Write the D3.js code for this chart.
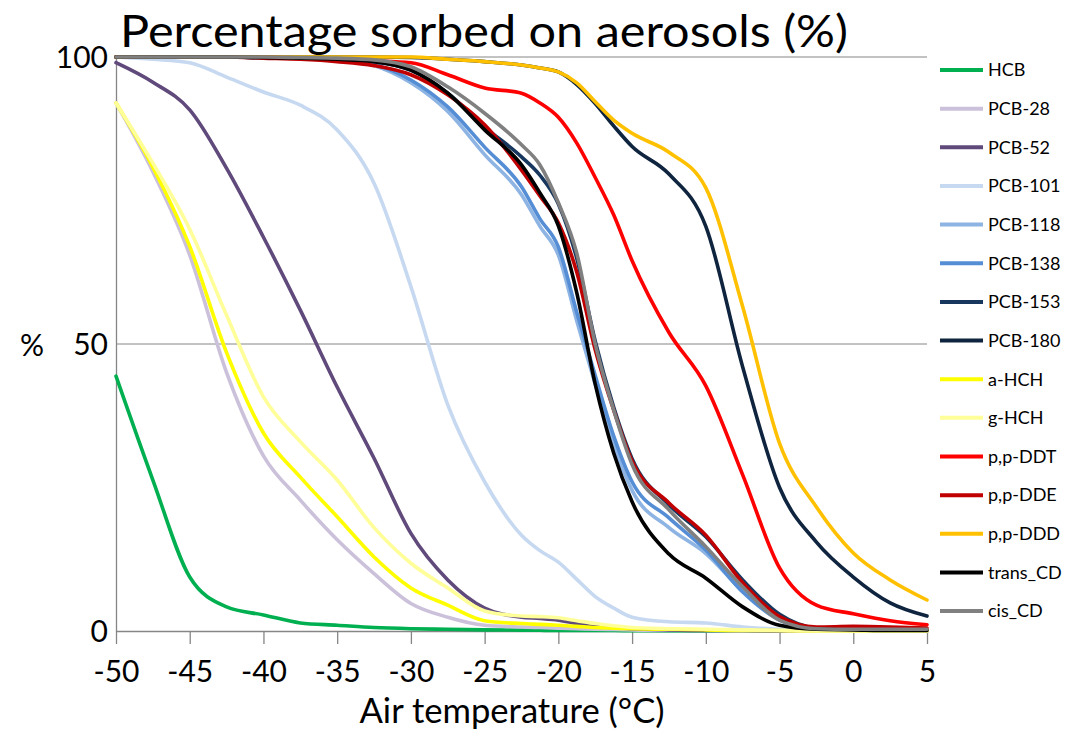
<!DOCTYPE html>
<meta charset="utf-8">
<script src="https://d3js.org/d3.v7.min.js"></script>
<style>
body { margin: 0; background: #fff; }
text { font-family: Lato, "Open Sans", sans-serif; fill: #000; }
.axis path, .axis line { stroke: #868686; stroke-width: 1.3px; }
.grid line { stroke: #868686; stroke-width: 1px; }
path.series { fill: none; stroke-width: 3.6px; stroke-linejoin: round; stroke-linecap: round; }
</style>
<body>
<script>

// air temperature of the readings (finer where the curves fall fast)
var temps = [-50, -47.5, -45, -42.5, -40, -37.5, -35, -32.5, -30, -27.5, -25, -22.5,
             -21.25, -20, -18.75, -17.5, -16.25, -15,
             -12.5, -10, -7.5, -5, -2.5, 0, 2.5, 5];

var xTicks = [-50, -45, -40, -35, -30, -25, -20, -15, -10, -5, 0, 5];
var yTicks = [0, 50, 100];

var names = ["HCB", "PCB-28", "PCB-52", "PCB-101", "PCB-118", "PCB-138", "PCB-153", "PCB-180",
             "a-HCH", "g-HCH", "p,p-DDT", "p,p-DDE", "p,p-DDD", "trans_CD", "cis_CD"];

var colors = ["#00b050", "#ccc1da", "#604a7b", "#c6d9f1", "#8eb4e3", "#558ed5", "#17375e", "#0f243e",
              "#ffff00", "#ffff99", "#ff0000", "#c00000", "#ffc000", "#000000", "#808080"];

// percentage sorbed on aerosols
var hcb    = [44.4, 26.3, 9.4, 4.2, 2.8, 1.4, 1.0, 0.6, 0.4, 0.3, 0.2, 0.15,
              0.12, 0.1, 0.1, 0.1, 0.08, 0.05, 0, 0, 0, 0, 0, 0, 0, 0];
var pcb28  = [92, 80, 65.5, 45, 30.5, 22.8, 15.9, 10, 4.8, 2.4, 1.0, 0.7,
              0.6, 0.5, 0.4, 0.3, 0.25, 0.2, 0.1, 0.1, 0, 0, 0, 0, 0, 0];
var pcb52  = [99, 95.6, 90.8, 80.6, 68.6, 55.9, 42.5, 30.1, 17, 8.9, 4, 2.4,
              2.2, 1.9, 1.3, 0.8, 0.6, 0.4, 0.2, 0.1, 0.1, 0, 0, 0, 0, 0];
var pcb101 = [100, 99.6, 99, 96.5, 93.9, 91.6, 87.3, 78, 60, 39.4, 26, 16.7,
              14, 12, 9, 6, 4, 2.4, 1.6, 1.4, 0.7, 0.3, 0.1, 0.1, 0, 0];
var pcb118 = [100, 100, 100, 100, 99.9, 99.8, 99.5, 98.5, 95.5, 90.5, 83, 76,
              70.5, 65.5, 54, 43, 32.5, 24.5, 18, 13.5, 7, 2, 0.4, 0.2, 0.1, 0.1];
var pcb138 = [100, 100, 100, 100, 99.9, 99.8, 99.5, 98.7, 96, 91.3, 84.3, 77.4,
              71.8, 66.9, 55.5, 44.5, 34, 26, 19.7, 14.1, 6.8, 1.9, 0.3, 0.2, 0.1, 0.1];
var pcb153 = [100, 100, 100, 100, 99.9, 99.9, 99.7, 99.2, 97.7, 93.7, 87.8, 82.6,
              79.4, 74.4, 64.9, 50.5, 39, 30, 22, 16.4, 8.9, 2.9, 0.5, 0.3, 0.2, 0.1];
var pcb180 = [100, 100, 100, 100, 100, 100, 100, 100, 99.9, 99.6, 99.2, 98.6,
              98.1, 97.4, 95.2, 91.9, 88, 84.4, 79.6, 70.5, 46, 25, 15.5, 9.4, 4.9, 2.6];
var aHCH   = [92, 80.8, 67, 48.5, 34.5, 26.8, 19.9, 12.9, 7.5, 4.5, 1.8, 1.3,
              1.15, 1.0, 0.8, 0.6, 0.5, 0.4, 0.3, 0.2, 0.1, 0.1, 0, 0, 0, 0];
var gHCH   = [92, 81.5, 70, 55, 40.8, 33, 26.3, 18, 11.8, 7.5, 3.5, 2.6,
              2.5, 2.3, 1.8, 1.3, 0.9, 0.6, 0.4, 0.3, 0.2, 0.1, 0, 0, 0, 0];
var ddt    = [100, 100, 100, 100, 100, 99.8, 99.5, 99.3, 99, 96.9, 94.6, 93.7,
              92, 89.5, 85, 79, 72.5, 64.5, 52, 42.7, 27.2, 11, 4.5, 3, 1.8, 1.1];
var dde    = [100, 100, 100, 100, 99.8, 99.6, 99.2, 98.5, 96.9, 93.4, 88.2, 80.3,
              75.8, 71.1, 62.5, 49, 38.5, 29.6, 22.3, 16.7, 8.4, 2.5, 0.7, 0.8, 0.7, 0.5];
var ddd    = [100, 100, 100, 100, 100, 100, 100, 100, 100, 99.6, 99.2, 98.6,
              98.1, 97.4, 95.5, 92.2, 89, 86.7, 83.4, 77.2, 56.5, 32.7, 21.6, 13.6, 8.9, 5.4];
var transCD = [100, 100, 100, 100, 99.9, 99.8, 99.6, 99.2, 97.7, 93.7, 87.3, 81.2,
               76.3, 70.6, 58.9, 43, 31, 22.5, 13.4, 9.2, 4.2, 1.0, 0.3, 0.2, 0.1, 0.1];
var cisCD  = [100, 100, 100, 100, 100, 99.9, 99.8, 99.5, 98.3, 94.8, 90.2, 84.7,
              81.2, 74.6, 65.8, 50, 38.5, 29, 21.1, 14.7, 7.7, 1.9, 0.4, 0.3, 0.3, 0.3];

var values = [hcb, pcb28, pcb52, pcb101, pcb118, pcb138, pcb153, pcb180,
              aHCH, gHCH, ddt, dde, ddd, transCD, cisCD];

var width = 1073,
    height = 737;

var svg = d3.select("body").append("svg")
    .attr("width", width)
    .attr("height", height);

var x = d3.scaleLinear().domain([-50, 5]).range([116, 927]);
var y = d3.scaleLinear().domain([0, 100]).range([631, 57]);

// gridlines
svg.append("g")
    .attr("class", "grid")
    .selectAll("line")
    .data(yTicks.filter(function(d) { return d > 0; }))
    .enter().append("line")
    .attr("x1", x(-50))
    .attr("x2", x(5))
    .attr("y1", function(d) { return y(d); })
    .attr("y2", function(d) { return y(d); });

// y axis
var yAxis = svg.append("g")
    .attr("class", "axis")
    .attr("transform", "translate(" + x(-50) + ",0)")
    .call(d3.axisLeft(y).tickValues(yTicks).tickSize(0).tickPadding(8));
yAxis.selectAll("text")
    .style("font-size", "30px")
    .attr("dy", "0.35em");

// x axis, plain hyphen for the minus sign like the original
var xAxis = svg.append("g")
    .attr("class", "axis")
    .attr("transform", "translate(0," + y(0) + ")")
    .call(d3.axisBottom(x).tickValues(xTicks).tickSize(13).tickSizeOuter(0).tickPadding(17)
        .tickFormat(function(d) { return String(d); }));
xAxis.selectAll("text")
    .style("font-size", "30px");

// title and axis titles
svg.append("text")
    .attr("x", 120)
    .attr("y", 47)
    .attr("textLength", 728)
    .attr("lengthAdjust", "spacingAndGlyphs")
    .style("font-size", "45px")
    .text("Percentage sorbed on aerosols (%)");

svg.append("text")
    .attr("x", 32)
    .attr("y", 345)
    .attr("dy", "0.35em")
    .attr("text-anchor", "middle")
    .style("font-size", "30px")
    .text("%");

svg.append("text")
    .attr("x", 512)
    .attr("y", 723)
    .attr("text-anchor", "middle")
    .attr("textLength", 305)
    .attr("lengthAdjust", "spacingAndGlyphs")
    .style("font-size", "34px")
    .text("Air temperature (°C)");

// series
var line = d3.line()
    .x(function(d, i) { return x(temps[i]); })
    .y(function(d) { return y(d); })
    .curve(d3.curveMonotoneX);

svg.append("g")
    .selectAll("path")
    .data(values)
    .enter().append("path")
    .attr("class", "series")
    .attr("stroke", function(d, i) { return colors[i]; })
    .attr("d", line);

// legend
var legend = svg.append("g")
    .selectAll("g")
    .data(names)
    .enter().append("g")
    .attr("transform", function(d, i) { return "translate(940," + (70 + i * 38.65) + ")"; });

legend.append("line")
    .attr("x1", 0)
    .attr("x2", 43)
    .attr("stroke-width", 4)
    .attr("stroke", function(d, i) { return colors[i]; });

legend.append("text")
    .attr("x", 48)
    .attr("dy", "0.35em")
    .style("font-size", "18px")
    .text(function(d) { return d; });

</script>
</body>
